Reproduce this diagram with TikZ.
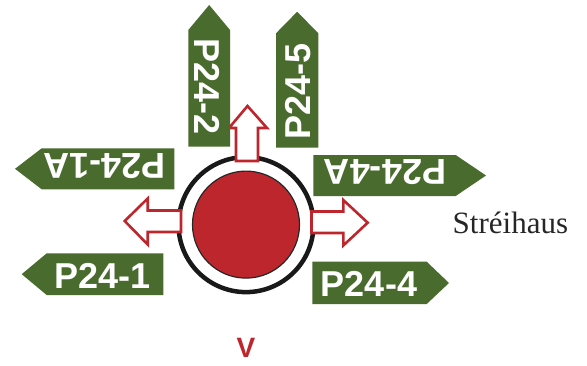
\documentclass[tikz,border=0pt]{standalone}
\usepackage{fontspec}
\setmainfont{Liberation Sans}
\newfontfamily\serifx{Liberation Serif}
\definecolor{signgreen}{RGB}{74,107,46}
\definecolor{diskred}{RGB}{190,38,46}
\begin{document}
\begin{tikzpicture}[x=1pt,y=-1pt,
  sign/.style={fill=signgreen},
  signtext/.style={text=white,font=\fontsize{36}{36}\selectfont\bfseries,inner sep=0pt},
  arrowbox/.style={draw=diskred,line width=2.6pt,fill=white,line join=miter}]
\useasboundingbox (0,0) rectangle (587,365);

% ring and disk
\coordinate (c) at (246,224.6);
\draw[line width=4.5pt,black!90] (c) circle[radius=67.5];
\fill[diskred,draw=black!85,line width=1.2pt] (c) circle[radius=53.5];

% arrows
\draw[arrowbox] (236,161) -- (236,128) -- (229,128) -- (247.5,106) -- (267,128) -- (258,128) -- (258,161) -- cycle;
\draw[arrowbox] (181,210.5) -- (147.7,210.5) -- (147.7,198.5) -- (124.7,221) -- (147.7,244.5) -- (147.7,232) -- (181,232) -- cycle;
\draw[arrowbox] (311.5,211.5) -- (343.3,211.5) -- (343.3,200) -- (367.7,222.7) -- (343.3,245.5) -- (343.3,233) -- (311.5,233) -- cycle;

% signs
\fill[sign] (15,168.8) -- (41.7,148.3) -- (174.3,148.3) -- (174.3,189.3) -- (41.7,189.3) -- cycle;
\node[signtext,rotate=180] (s1a) at (104.5,166) {P24-1A};

\fill[sign] (21.7,274.2) -- (46.7,253.3) -- (163.3,253.3) -- (163.3,295) -- (46.7,295) -- cycle;
\node[signtext] (s1) at (102.5,275.7) {P24-1};

\fill[sign] (486,175.5) -- (455.7,155) -- (313.3,155) -- (313.3,196) -- (455.7,196) -- cycle;
\node[signtext,rotate=180] (s4a) at (385,172.5) {P24-4A};

\fill[sign] (449,283) -- (426.7,261.7) -- (312.3,261.7) -- (312.3,304) -- (426.7,304) -- cycle;
\node[signtext] (s4) at (369,283.7) {P24-4};

\fill[sign] (209.2,5) -- (230,30) -- (230,146.7) -- (188.3,146.7) -- (188.3,30) -- cycle;
\node[signtext,rotate=-90] (s2) at (206.7,86.7) {P24-2};

\fill[sign] (297.2,11.7) -- (318.3,33.3) -- (318.3,147.7) -- (276,147.7) -- (276,33.3) -- cycle;
\node[signtext,rotate=90] (s5) at (298.3,91.5) {P24-5};

% labels
\node[anchor=base west,inner sep=0pt,text=black!85,font=\serifx\fontsize{31}{31}\selectfont] (house) at (452.5,233.3) {Stréihaus};
\node[inner sep=0pt,text=diskred,font=\fontsize{28}{28}\selectfont\bfseries] (v) at (246,348) {V};
\end{tikzpicture}
\end{document}
